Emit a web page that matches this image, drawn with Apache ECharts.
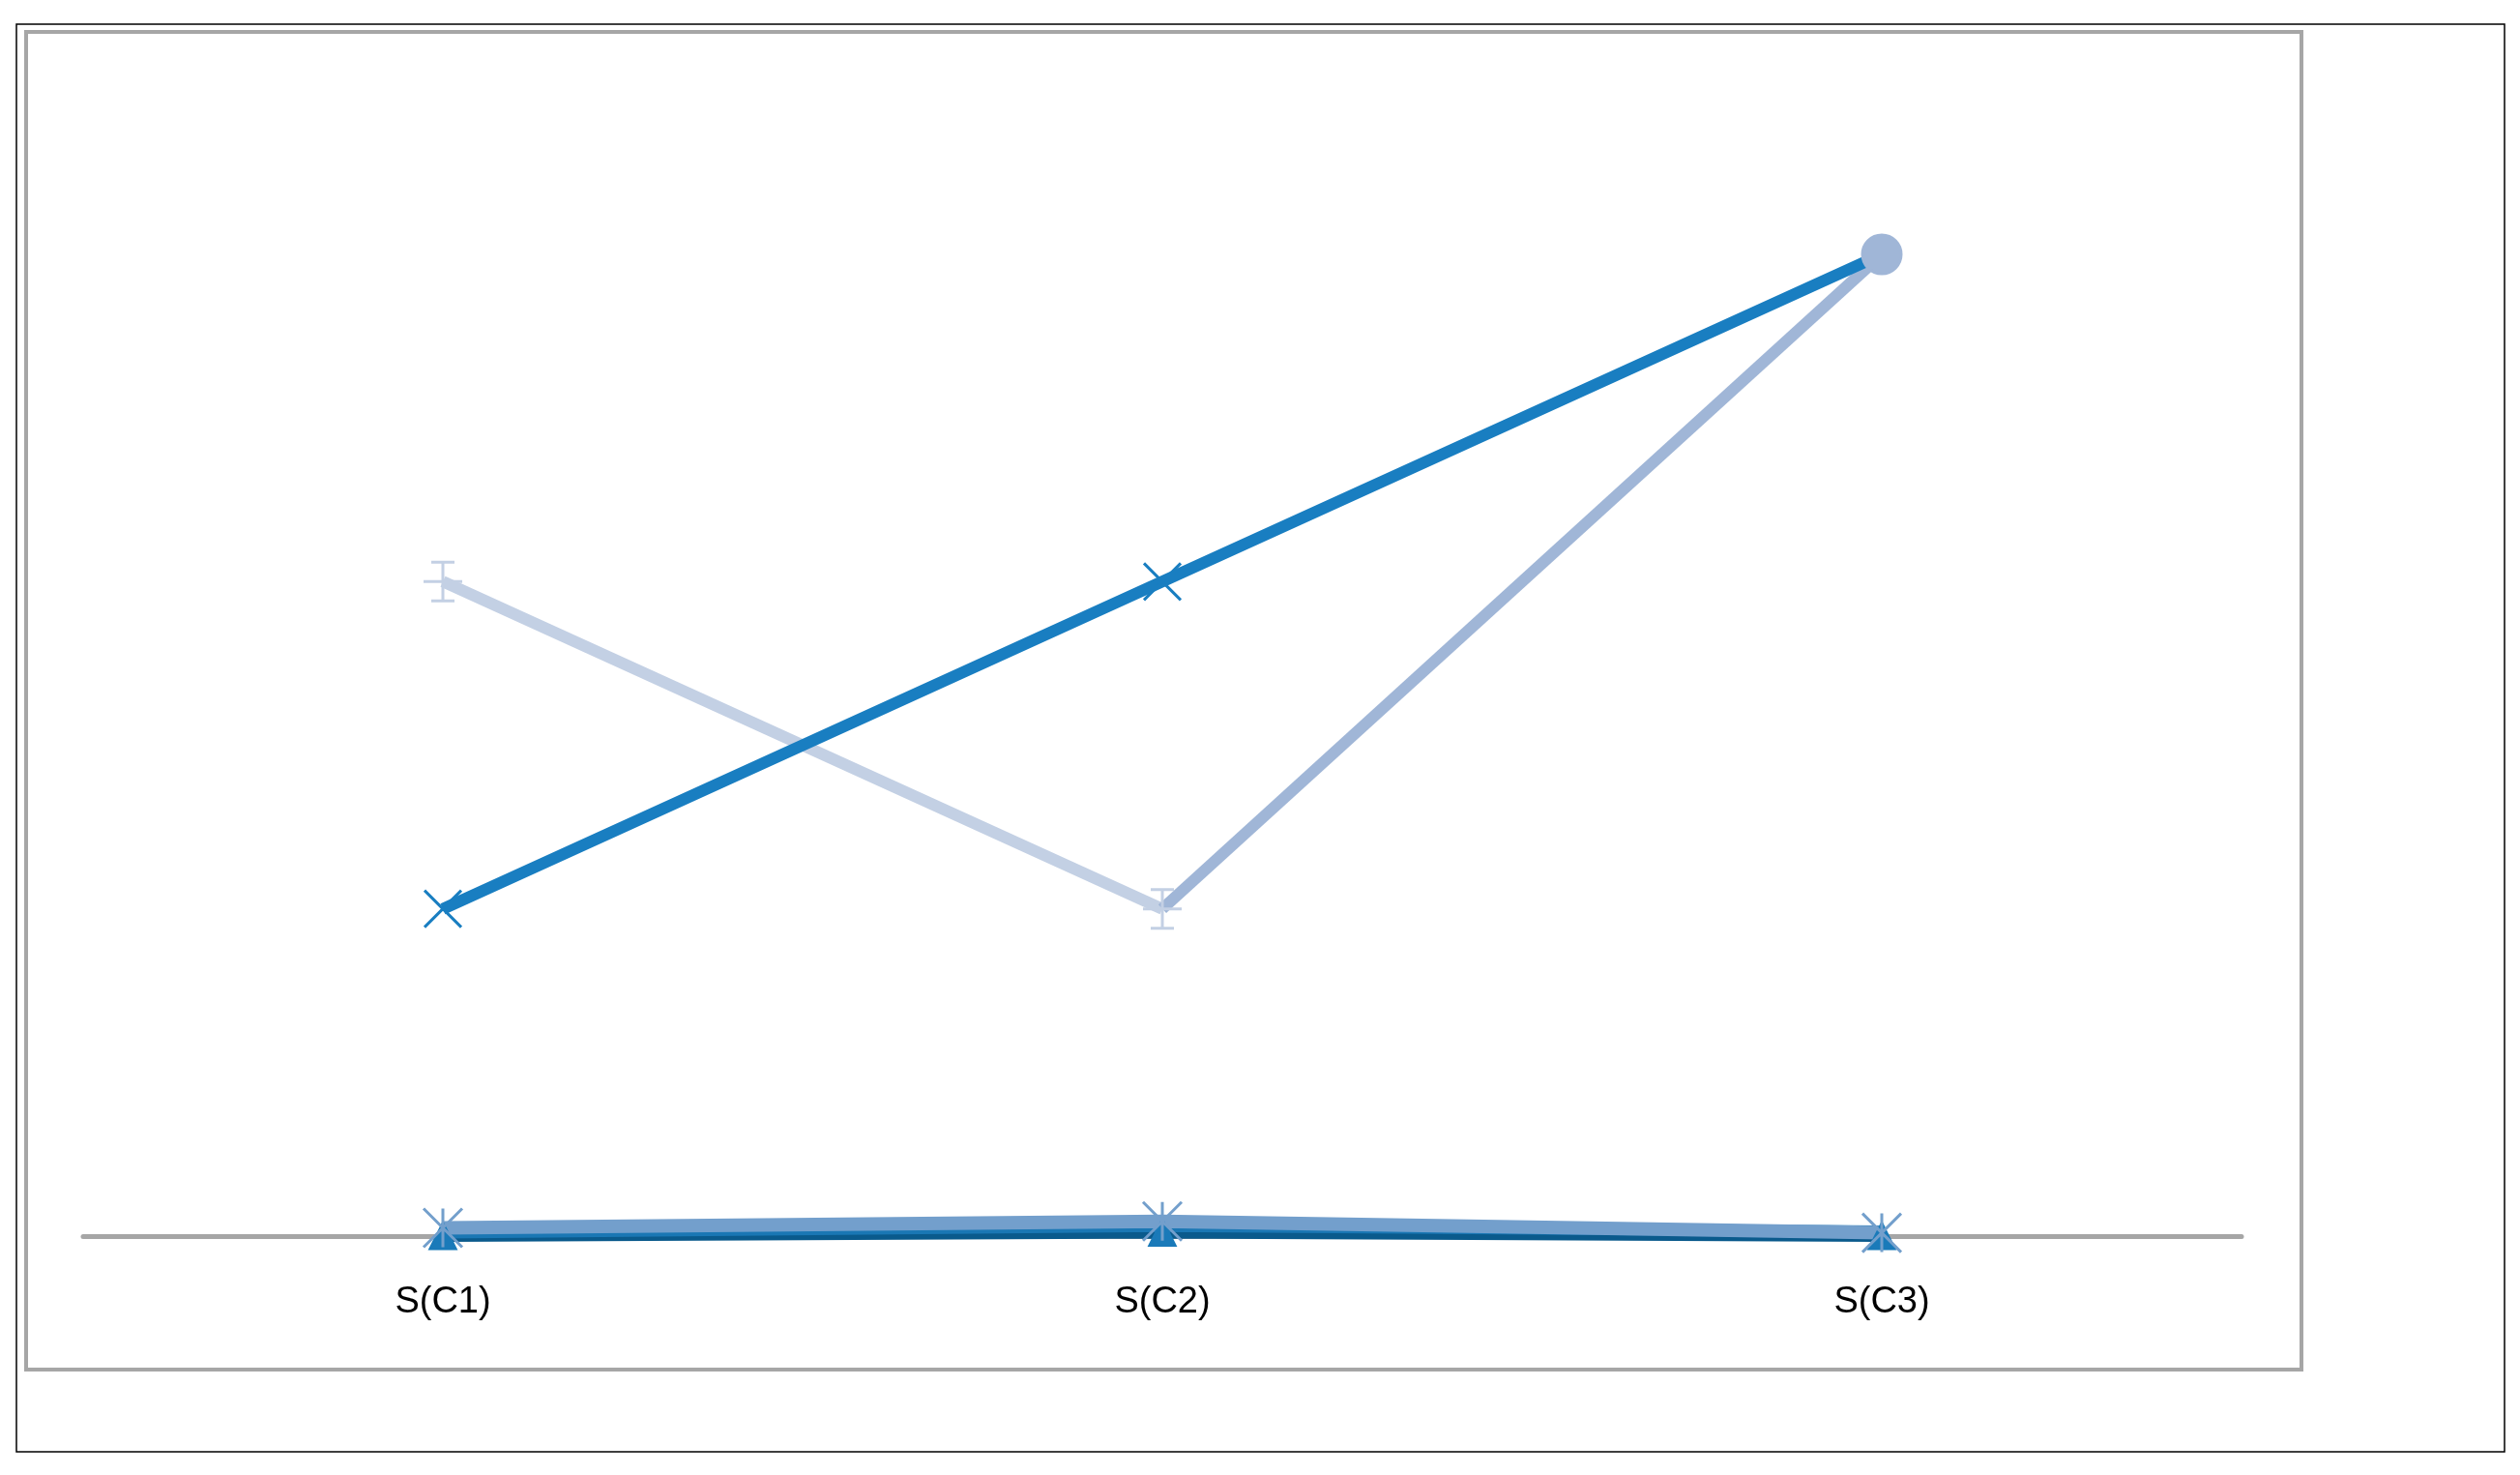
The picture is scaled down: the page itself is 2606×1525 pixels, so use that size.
<!DOCTYPE html>
<html>
<head>
<meta charset="utf-8">
<script src="https://cdn.jsdelivr.net/npm/echarts@6/dist/echarts.min.js"></script>
<style>html,body{margin:0;padding:0;background:#fff;}#main{width:2606px;height:1525px;}</style>
</head>
<body>
<div id="main"></div>
<script>
var categories = ['S(C1)', 'S(C2)', 'S(C3)'];
var darkLine = [1, 2, 3];
var paleLine = [2, 1, null];
var midLine = [null, 1, 3];
var baseNavy = [0, 0.01, 0];
var baseBlue = [0.01, 0.03, 0.015];
var baseLight = [0.025, 0.045, 0.01];

var X_PATH = 'path://M0,0L10,10M10,0L0,10';
var PLUS_PATH = 'path://M5,0L5,10M0,5L10,5M2,0L8,0M2,10L8,10';
var STAR_PATH = 'path://M0,0L10,10M10,0L0,10M5,0L5,10';

var chart = echarts.init(document.getElementById('main'));
function lineSeries(data, color, width, symbol, size, symColor) {
    return {
        type: 'line', data: data, connectNulls: false,
        lineStyle: { color: color, width: width },
        itemStyle: { color: symColor || color, borderColor: symColor || color, borderWidth: 3 },
        symbol: symbol, symbolSize: size, showSymbol: true,
        z: 3
    };
}
var option = {
    animation: false,
    backgroundColor: '#fff',
    graphic: [
        { type: 'rect', shape: { x: 17, y: 25, width: 2573, height: 1476 }, style: { fill: 'none', stroke: '#000', lineWidth: 1.5 } },
        { type: 'rect', shape: { x: 27, y: 33, width: 2353, height: 1383 }, style: { fill: 'none', stroke: '#a6a6a6', lineWidth: 4 } }
    ],
    grid: { left: 86, right: 288, top: 263, bottom: 247 },
    xAxis: {
        type: 'category', data: categories, boundaryGap: true,
        axisLine: { lineStyle: { color: '#a6a6a6', width: 5 } },
        axisTick: { show: false },
        axisLabel: { fontFamily: 'Liberation Sans', fontSize: 38, color: '#000', margin: 50 }
    },
    yAxis: { type: 'value', min: 0, max: 3, show: false, splitLine: { show: false } },
    series: [
        lineSeries(paleLine, '#c3d0e4', 12, PLUS_PATH, 40, '#c3d0e4'),
        lineSeries(midLine, '#a0b6d7', 12, 'circle', 40, '#a0b6d7'),
        lineSeries(darkLine, '#197ec1', 12, X_PATH, 38, '#197ec1'),
        lineSeries(baseNavy, '#0a5a8c', 12, 'triangle', 26, '#1a7ab9'),
        lineSeries(baseBlue, '#1a77b4', 12, 'none', 0),
        lineSeries(baseLight, '#739fcc', 14, STAR_PATH, 40, '#739fcc')
    ]
};
option.series[1].data = midLine.map(function (v, i) { return i === 2 ? { value: v } : { value: v, symbol: 'none' }; });
option.series[2].data = darkLine.map(function (v, i) { return i === 2 ? { value: v, symbol: 'none' } : v; });
chart.setOption(option);
</script>
</body>
</html>
